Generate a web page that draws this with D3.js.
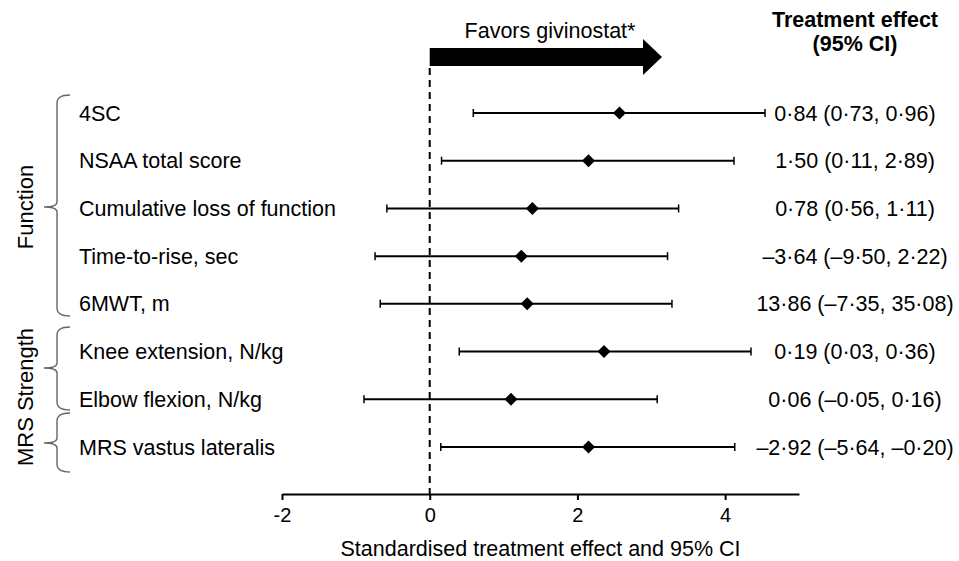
<!DOCTYPE html>
<meta charset="utf-8">
<style>
body { margin: 0; background: #fff; font-family: "Liberation Sans", Arial, sans-serif; }
.axis path, .axis line { fill: none; stroke: #000; stroke-width: 2px; }
.axis text { font-size: 20px; font-family: "Liberation Sans", Arial, sans-serif; fill: #000; }
.brace { fill: none; stroke: #666; stroke-width: 1.4px; }
</style>
<body>
<script src="https://d3js.org/d3.v7.min.js"></script>
<script>

var outcomes = ["4SC", "NSAA total score", "Cumulative loss of function", "Time-to-rise, sec",
                "6MWT, m", "Knee extension, N/kg", "Elbow flexion, N/kg", "MRS vastus lateralis"];
var estimate = [2.57, 2.15, 1.39, 1.24, 1.32, 2.36, 1.10, 2.15];
var lower    = [0.59, 0.16, -0.58, -0.74, -0.67, 0.40, -0.89, 0.15];
var upper    = [4.54, 4.12, 3.37, 3.22, 3.28, 4.35, 3.08, 4.13];
var effectText = ["0·84 (0·73, 0·96)", "1·50 (0·11, 2·89)", "0·78 (0·56, 1·11)", "–3·64 (–9·50, 2·22)",
                  "13·86 (–7·35, 35·08)", "0·19 (0·03, 0·36)", "0·06 (–0·05, 0·16)", "–2·92 (–5·64, –0·20)"];
var xTicks = [-2, 0, 2, 4];

var width = 959, height = 561;
var fs = "21.5px";

var svg = d3.select("body").append("svg")
    .attr("width", width)
    .attr("height", height);

var x = d3.scaleLinear().domain([-2, 5]).range([282, 799]);
var y = d3.scalePoint().domain(outcomes).range([113, 447]);

// x axis
var axisY = 494;
svg.append("g")
    .attr("class", "axis")
    .attr("transform", "translate(0," + axisY + ")")
    .call(d3.axisBottom(x).tickValues(xTicks).tickSize(6).tickSizeOuter(0)
      .tickFormat(function(d) { return String(d); }))
  .selectAll("text")
    .attr("dy", "0.95em");

svg.append("text")
    .attr("x", (x(-2) + x(5)) / 2)
    .attr("y", 556)
    .attr("text-anchor", "middle")
    .style("font-size", fs)
    .text("Standardised treatment effect and 95% CI");

// zero line
svg.append("line")
    .attr("x1", x(0)).attr("x2", x(0))
    .attr("y1", 68).attr("y2", axisY)
    .attr("stroke", "#000")
    .attr("stroke-width", 2)
    .attr("stroke-dasharray", "7,5");

// favours arrow
var ax0 = x(0), ax1 = 643, tip = 662;
svg.append("path")
    .attr("d", "M" + ax0 + ",48 L" + ax1 + ",48 L" + ax1 + ",39 L" + tip + ",57 L" + ax1 + ",75 L" + ax1 + ",66 L" + ax0 + ",66 Z")
    .attr("fill", "#000");
svg.append("text")
    .attr("x", 550).attr("y", 38)
    .attr("text-anchor", "middle")
    .style("font-size", fs)
    .text("Favors givinostat*");

// header
svg.append("text")
    .attr("x", 855).attr("y", 27)
    .attr("text-anchor", "middle")
    .style("font-size", fs).style("font-weight", "bold")
    .text("Treatment effect");
svg.append("text")
    .attr("x", 855).attr("y", 51)
    .attr("text-anchor", "middle")
    .style("font-size", fs).style("font-weight", "bold")
    .text("(95% CI)");

var rows = svg.selectAll(".row")
    .data(outcomes)
  .enter().append("g")
    .attr("class", "row")
    .attr("transform", function(d) { return "translate(0," + y(d) + ")"; });

rows.append("text")
    .attr("x", 79).attr("dy", "0.35em")
    .style("font-size", fs)
    .text(function(d) { return d; });

rows.append("line")
    .attr("x1", function(d, i) { return x(lower[i]); })
    .attr("x2", function(d, i) { return x(upper[i]); })
    .attr("stroke", "#000").attr("stroke-width", 2);

rows.append("line")
    .attr("x1", function(d, i) { return x(lower[i]); })
    .attr("x2", function(d, i) { return x(lower[i]); })
    .attr("y1", -4).attr("y2", 4)
    .attr("stroke", "#000").attr("stroke-width", 1.5);

rows.append("line")
    .attr("x1", function(d, i) { return x(upper[i]); })
    .attr("x2", function(d, i) { return x(upper[i]); })
    .attr("y1", -4).attr("y2", 4)
    .attr("stroke", "#000").attr("stroke-width", 1.5);

rows.append("path")
    .attr("d", function(d, i) {
      var cx = x(estimate[i]);
      return "M" + (cx - 6.5) + ",0 L" + cx + ",-6.5 L" + (cx + 6.5) + ",0 L" + cx + ",6.5 Z";
    })
    .attr("fill", "#000");

rows.append("text")
    .attr("x", 855).attr("dy", "0.35em")
    .attr("text-anchor", "middle")
    .style("font-size", fs)
    .text(function(d, i) { return effectText[i]; });

// group braces
function brace(top, bottom, mid) {
  var xv = 57, xe = 70, xt = 44;
  return "M" + xe + "," + top + " Q" + xv + "," + top + " " + xv + "," + (top + 8) +
         " L" + xv + "," + (mid - 5) + " Q" + xv + "," + mid + " " + xt + "," + mid +
         " Q" + xv + "," + mid + " " + xv + "," + (mid + 5) +
         " L" + xv + "," + (bottom - 8) + " Q" + xv + "," + bottom + " " + xe + "," + bottom;
}
svg.append("path").attr("class", "brace").attr("d", brace(95, 316, 207));
svg.append("path").attr("class", "brace").attr("d", brace(327, 410, 368));
svg.append("path").attr("class", "brace").attr("d", brace(413, 472, 443));

svg.append("text")
    .attr("transform", "translate(33,207) rotate(-90)")
    .attr("text-anchor", "middle")
    .style("font-size", "22px")
    .text("Function");
svg.append("text")
    .attr("transform", "translate(33,397) rotate(-90)")
    .attr("text-anchor", "middle")
    .style("font-size", "22px")
    .text("MRS Strength");

</script>
